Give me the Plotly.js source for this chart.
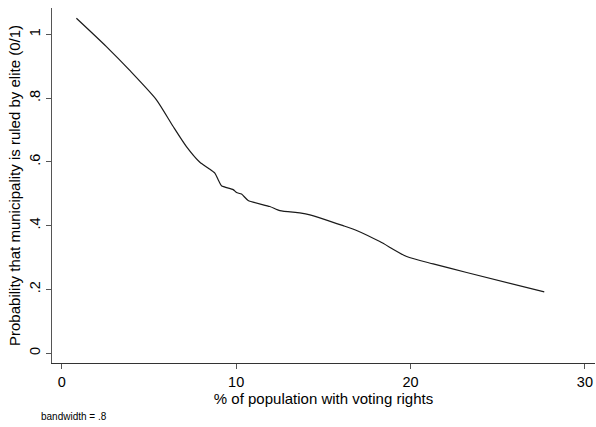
<!DOCTYPE html>
<html>
<head>
<meta charset="utf-8">
<script src="https://cdn.plot.ly/plotly-3.0.1.min.js"></script>
<style>html,body{margin:0;padding:0;background:#fff;}#chart{width:596px;height:427px;}</style>
</head>
<body>
<div id="chart"></div>
<script>
var votingPct = [0.84, 2.56, 3.90, 5.43, 6.39, 7.15, 7.92, 8.39, 8.78, 8.97, 9.16, 9.83, 10.02, 10.31, 10.69, 11.93, 12.51, 13.65, 14.23, 16.14, 16.91, 18.24, 19.78, 21.30, 23.22, 27.67];
var eliteProb = [1.051, 0.962, 0.887, 0.795, 0.711, 0.648, 0.599, 0.581, 0.565, 0.544, 0.525, 0.513, 0.504, 0.499, 0.479, 0.460, 0.447, 0.440, 0.434, 0.400, 0.385, 0.350, 0.303, 0.280, 0.253, 0.192];
var xTicks = [0, 10, 20, 30];
var xTickText = ["0", "10", "20", "30"];
var yTicks = [0, 0.2, 0.4, 0.6, 0.8, 1];
var yTickText = ["0", ".2", ".4", ".6", ".8", "1"];

var trace = {
  x: votingPct, y: eliteProb, type: 'scatter', mode: 'lines',
  line: {color: '#1a1a1a', width: 1.2, shape: 'spline', smoothing: 0.6},
  hoverinfo: 'skip'
};
var fam = 'Liberation Sans, Arial, sans-serif';
var tickFont = {family: fam, size: 14.5, color: '#000'};
var titleFont = {family: fam, size: 15, color: '#000'};
var layout = {
  width: 596, height: 427,
  margin: {l: 52, r: 1, t: 8, b: 64},
  paper_bgcolor: '#fff', plot_bgcolor: '#fff',
  showlegend: false,
  font: tickFont,
  xaxis: {
    range: [-0.56, 30.58], tickvals: xTicks, ticktext: xTickText,
    ticks: 'outside', ticklen: 5, tickcolor: '#555', tickwidth: 1,
    showline: true, linecolor: '#333', linewidth: 1.2,
    showgrid: false, zeroline: false,
    tickfont: tickFont,
    title: {text: '% of population with voting rights', font: titleFont, standoff: 1},
    automargin: false
  },
  yaxis: {
    range: [-0.031, 1.083], tickvals: yTicks, ticktext: yTickText,
    ticks: 'outside', ticklen: 5, tickcolor: '#555', tickwidth: 1,
    tickangle: -90,
    showline: true, linecolor: '#555', linewidth: 1.2,
    showgrid: false, zeroline: false,
    tickfont: tickFont,
    title: {text: 'Probability that municipality is ruled by elite (0/1)', font: titleFont, standoff: 2},
    automargin: false
  },
  annotations: [{
    text: 'bandwidth = .8', xref: 'paper', yref: 'paper',
    x: 0, y: -0.152, xanchor: 'left', yanchor: 'middle',
    xshift: -13, showarrow: false,
    font: {family: fam, size: 10, color: '#000'}
  }]
};
Plotly.newPlot('chart', [trace], layout, {displayModeBar: false, staticPlot: true});
</script>
</body>
</html>
